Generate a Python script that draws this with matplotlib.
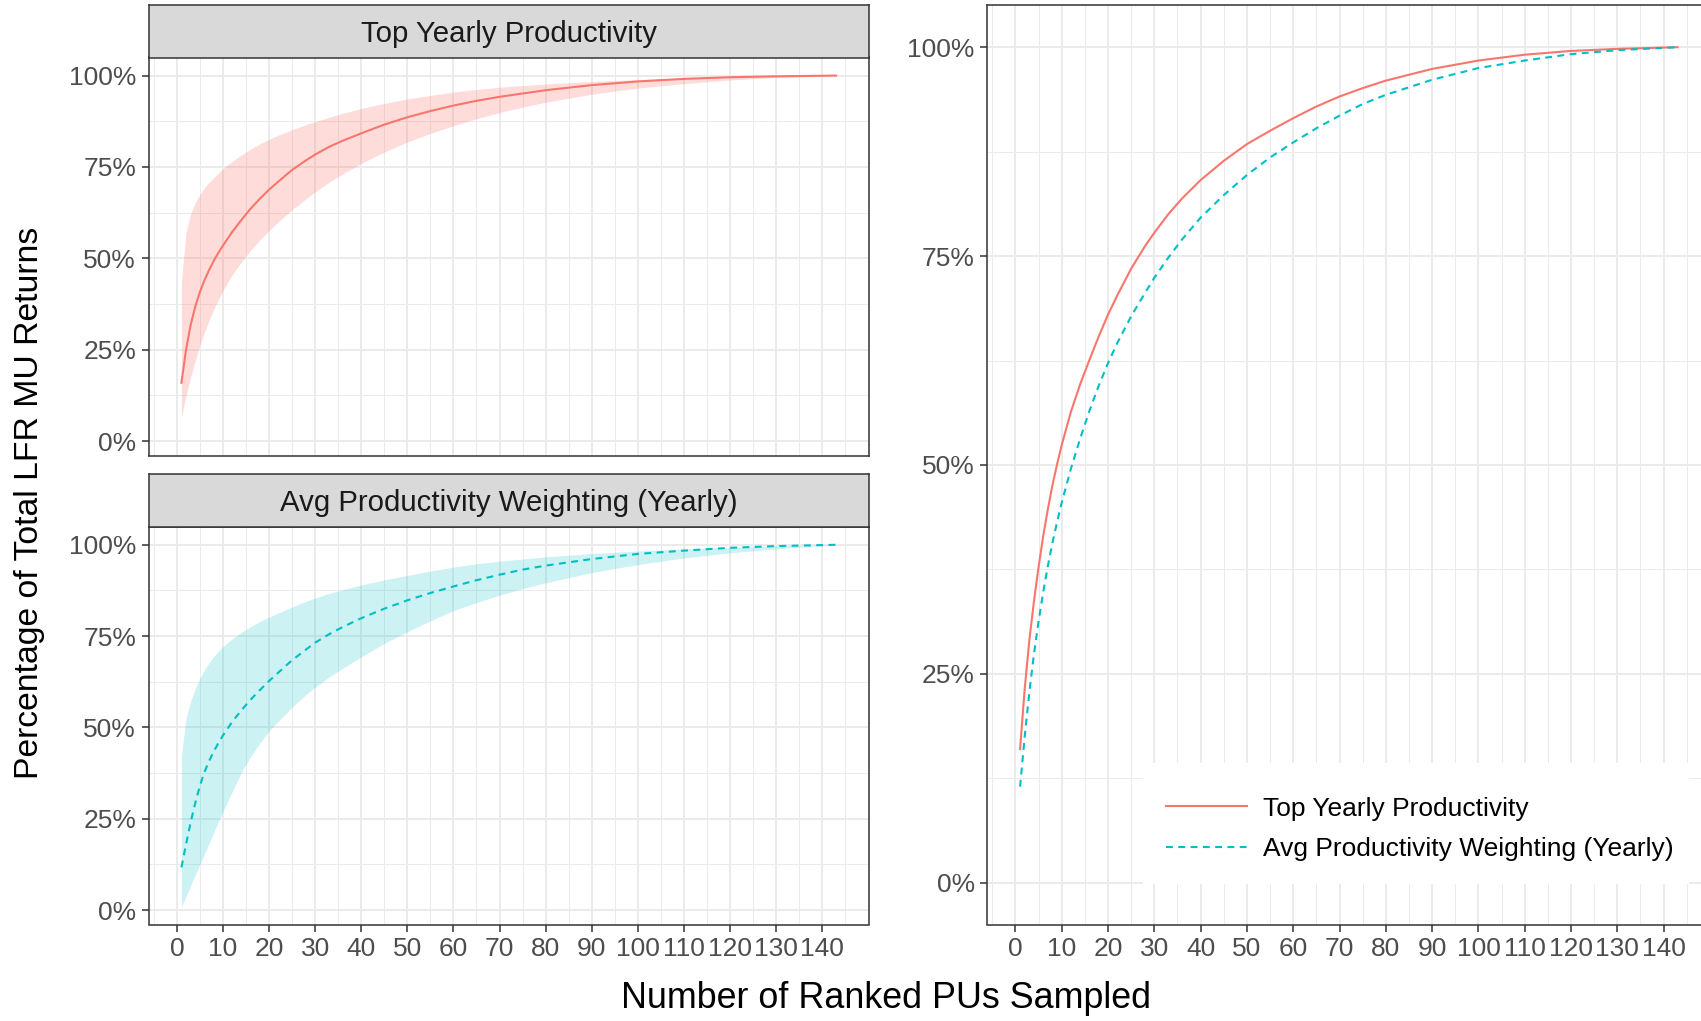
import numpy as np
import matplotlib
matplotlib.use("Agg")
import matplotlib.pyplot as plt
from matplotlib.patches import Rectangle

# ── data ─────────────────────────────────────────────────────────────────────
pus = [1, 2, 3, 4, 5, 6, 7, 8, 9, 10,
       12, 14, 16, 18, 20, 22, 25, 28, 30,
       33, 36, 40, 45, 50, 55, 60, 65, 70, 75, 80,
       90, 100, 110, 120, 130, 143]

# facet panels: mean line and ribbon
top_facet = [0.160, 0.250, 0.318, 0.368, 0.408, 0.440, 0.468, 0.493, 0.515, 0.535,
             0.572, 0.605, 0.636, 0.663, 0.688, 0.710, 0.742, 0.768, 0.784,
             0.805, 0.822, 0.842, 0.866, 0.886, 0.903, 0.918, 0.931, 0.942, 0.951, 0.960,
             0.974, 0.984, 0.991, 0.9955, 0.998, 1.0]
top_lo = [0.066, 0.125, 0.175, 0.220, 0.262, 0.298, 0.330, 0.360, 0.387, 0.412,
          0.455, 0.490, 0.522, 0.550, 0.576, 0.600, 0.633, 0.663, 0.682,
          0.708, 0.731, 0.760, 0.791, 0.818, 0.842, 0.863, 0.882, 0.899, 0.914, 0.927,
          0.949, 0.966, 0.978, 0.988, 0.995, 1.0]
top_hi = [0.438, 0.572, 0.622, 0.652, 0.675, 0.693, 0.708, 0.721, 0.733, 0.745,
          0.765, 0.783, 0.799, 0.813, 0.826, 0.837, 0.852, 0.866, 0.874,
          0.886, 0.897, 0.910, 0.924, 0.936, 0.946, 0.955, 0.962, 0.968, 0.973, 0.977,
          0.984, 0.989, 0.993, 0.996, 0.998, 1.0]

avg_facet = [0.117, 0.180, 0.240, 0.293, 0.340, 0.378, 0.408, 0.434, 0.457, 0.478,
             0.515, 0.547, 0.576, 0.602, 0.627, 0.650, 0.684, 0.713, 0.732,
             0.755, 0.775, 0.799, 0.825, 0.848, 0.868, 0.886, 0.903, 0.918, 0.932, 0.943,
             0.961, 0.975, 0.984, 0.9917, 0.9964, 1.0]
avg_lo = [0.010, 0.038, 0.067, 0.096, 0.125, 0.154, 0.183, 0.212, 0.242, 0.270,
          0.324, 0.377, 0.420, 0.457, 0.490, 0.517, 0.555, 0.590, 0.610,
          0.638, 0.662, 0.693, 0.730, 0.762, 0.792, 0.820, 0.842, 0.862, 0.880, 0.896,
          0.924, 0.946, 0.964, 0.978, 0.989, 1.0]
avg_hi = [0.425, 0.525, 0.572, 0.607, 0.635, 0.658, 0.677, 0.694, 0.708, 0.721,
          0.742, 0.760, 0.776, 0.790, 0.802, 0.813, 0.830, 0.845, 0.854,
          0.867, 0.877, 0.890, 0.904, 0.916, 0.928, 0.939, 0.948, 0.955, 0.961, 0.967,
          0.976, 0.983, 0.989, 0.993, 0.997, 1.0]

# combined panel lines
top_combined = [0.160, 0.232, 0.290, 0.337, 0.378, 0.415, 0.447, 0.476, 0.501, 0.524,
                0.564, 0.597, 0.626, 0.654, 0.680, 0.703, 0.735, 0.762, 0.778,
                0.800, 0.819, 0.841, 0.864, 0.884, 0.900, 0.915, 0.929, 0.941, 0.951, 0.960,
                0.974, 0.984, 0.991, 0.9955, 0.998, 1.0]
avg_combined = [0.115, 0.175, 0.228, 0.274, 0.313, 0.348, 0.379, 0.407, 0.432, 0.455,
                0.496, 0.532, 0.565, 0.595, 0.622, 0.646, 0.678, 0.706, 0.724,
                0.748, 0.770, 0.796, 0.823, 0.847, 0.868, 0.886, 0.903, 0.918, 0.932, 0.943,
                0.961, 0.975, 0.984, 0.9917, 0.9964, 1.0]

series_names = ["Top Yearly Productivity", "Avg Productivity Weighting (Yearly)"]
x_ticks = list(range(0, 141, 10))
y_ticks = [0, 0.25, 0.5, 0.75, 1.0]
y_tick_labels = ["0%", "25%", "50%", "75%", "100%"]
x_title = "Number of Ranked PUs Sampled"
y_title = "Percentage of Total LFR MU Returns"

RED, CYAN = "#F8766D", "#00BFC4"
DASH = (0, (3.3, 2.6))

plt.rcParams['font.family'] = ['Liberation Sans', 'DejaVu Sans']

W, H = 1701, 1021
fig = plt.figure(figsize=(W / 100, H / 100), dpi=100)


def px_axes(x0, y0, x1, y1):
    # box given in pixels from the top-left corner
    return fig.add_axes([x0 / W, 1 - y1 / H, (x1 - x0) / W, (y1 - y0) / H])


def expand(lo, hi, f=0.05):
    d = hi - lo
    return lo - f * d, hi + f * d


xlim = expand(min(pus), max(pus))
left_ylim = expand(min(top_lo + avg_lo + top_facet + avg_facet),
                   max(top_hi + avg_hi + top_facet + avg_facet))
right_ylim = expand(0, 1)


def style(ax, ylim, xlabels=True):
    ax.set_xlim(*xlim)
    ax.set_ylim(*ylim)
    ax.set_xticks(x_ticks)
    ax.set_xticks(np.arange(-5, 150, 10), minor=True)
    ax.set_yticks(y_ticks)
    ax.set_yticklabels(y_tick_labels)
    ax.set_yticks([0.125, 0.375, 0.625, 0.875], minor=True)
    ax.grid(which='major', color='#EBEBEB', lw=1.4)
    ax.grid(which='minor', color='#EBEBEB', lw=0.7)
    ax.set_axisbelow(True)
    ax.tick_params(which='major', length=5, width=1.1, color='#333333',
                   labelsize=19, labelcolor='#4D4D4D', pad=4)
    ax.tick_params(which='minor', length=0)
    if not xlabels:
        ax.tick_params(axis='x', which='major', length=0, labelbottom=False)
    for s in ax.spines.values():
        s.set_color('#333333')
        s.set_linewidth(1.1)


def strip(x0, y0, x1, y1, label):
    sa = px_axes(x0, y0, x1, y1)
    sa.set_facecolor('#D9D9D9')
    sa.set_xticks([]); sa.set_yticks([])
    for s in sa.spines.values():
        s.set_color('#333333')
        s.set_linewidth(1.1)
    sa.text(0.5, 0.30, label, transform=sa.transAxes, ha='center', va='baseline',
            fontsize=21.2, color='#1A1A1A')


# ── left facets ──────────────────────────────────────────────────────────────
LX0, LX1 = 148.7, 868.8
ax1 = px_axes(LX0, 57.5, LX1, 455.6)
ax1.fill_between(pus, top_lo, top_hi, color=RED, alpha=0.25, lw=0)
ax1.plot(pus, top_facet, color=RED, lw=1.5)
style(ax1, left_ylim, xlabels=False)
strip(LX0, 5.4, LX1, 57.5, series_names[0])

ax2 = px_axes(LX0, 526.7, LX1, 924.5)
ax2.fill_between(pus, avg_lo, avg_hi, color=CYAN, alpha=0.2, lw=0)
ax2.plot(pus, avg_facet, color=CYAN, lw=1.5, linestyle=DASH)
style(ax2, left_ylim)
strip(LX0, 474, LX1, 526.7, series_names[1])

# ── right combined panel ─────────────────────────────────────────────────────
axr = px_axes(987.2, 5.4, 1710.4, 924.5)
axr.plot(pus, top_combined, color=RED, lw=1.5, label=series_names[0])
axr.plot(pus, avg_combined, color=CYAN, lw=1.5, linestyle=DASH, label=series_names[1])
style(axr, right_ylim)

# white legend box covering the grid
axr.add_patch(Rectangle((1143 / W, 1 - 884 / H), (1689 - 1143) / W, (884 - 763) / H,
                        transform=fig.transFigure, facecolor='white',
                        edgecolor='none', zorder=1.5))
axr.legend(loc='center left', bbox_to_anchor=(1166 / W, 1 - 829 / H),
           bbox_transform=fig.transFigure, borderaxespad=0, borderpad=0,
           frameon=False, fontsize=19, handlelength=3.08, handletextpad=0.6,
           labelspacing=0.64)

# ── axis titles ──────────────────────────────────────────────────────────────
fig.text(886 / W, 1 - 998 / H, x_title, ha='center', va='center', fontsize=25.8)
fig.text(30 / W, 1 - 503 / H, y_title, ha='center', va='center', fontsize=24.3,
         rotation=90)

fig.savefig("out.png", dpi=100)
